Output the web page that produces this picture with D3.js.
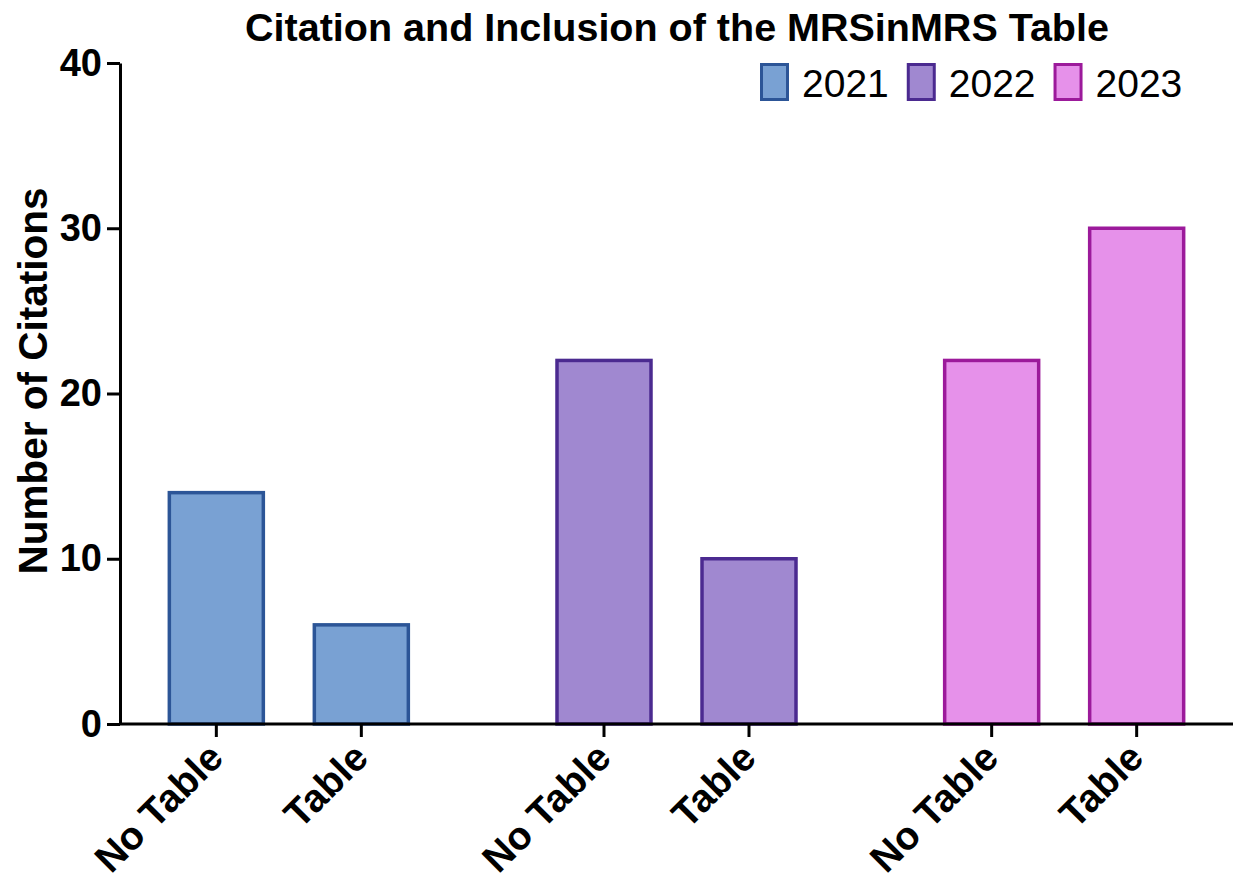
<!DOCTYPE html>
<html>
<head>
<meta charset="utf-8">
<script src="https://cdn.jsdelivr.net/npm/d3@7"></script>
<style>
  body { margin: 0; background: #fff; }
  svg text { font-family: "Liberation Sans", Arial, Helvetica, sans-serif; }
</style>
</head>
<body>
<div id="chart"></div>
<script>
// data
var years = ["2021", "2022", "2023"];
var categories = ["No Table", "Table"];
var noTable = [14, 22, 22];
var withTable = [6, 10, 30];
var yTicks = [0, 10, 20, 30, 40];

var fills = ["#79a1d3", "#a088d0", "#e691ea"];
var strokes = ["#2c5597", "#4b2a90", "#9c1a9b"];

var svgWidth = 1233;
var svgHeight = 882;

var svg = d3.select("#chart")
  .append("svg")
  .attr("width", svgWidth)
  .attr("height", svgHeight);

var yScale = d3.scaleLinear()
  .domain([0, 40])
  .range([724, 63]);

var x0 = d3.scaleBand()
  .domain(years)
  .range([95, 1258]);

var x1 = d3.scalePoint()
  .domain(categories)
  .range([-72.5, 72.5]);

var barWidth = 94;

// flatten into bar rows
var bars = [];
years.forEach(function(y, i) {
  bars.push({ year: y, cat: categories[0], value: noTable[i], idx: i });
  bars.push({ year: y, cat: categories[1], value: withTable[i], idx: i });
});
function cx(d) { return x0(d.year) + x0.bandwidth() / 2 + x1(d.cat); }

// bars
svg.selectAll("rect.bar")
  .data(bars)
  .enter()
  .append("rect")
  .attr("class", "bar")
  .attr("x", d => cx(d) - barWidth / 2)
  .attr("y", d => yScale(d.value))
  .attr("width", barWidth)
  .attr("height", d => yScale(0) - yScale(d.value))
  .attr("fill", d => fills[d.idx])
  .attr("stroke", d => strokes[d.idx])
  .attr("stroke-width", 3.5);

// x axis line + ticks
svg.append("line")
  .attr("x1", 119).attr("x2", svgWidth)
  .attr("y1", yScale(0)).attr("y2", yScale(0))
  .attr("stroke", "#000").attr("stroke-width", 3);

svg.selectAll("line.xtick")
  .data(bars)
  .enter()
  .append("line")
  .attr("class", "xtick")
  .attr("x1", d => cx(d)).attr("x2", d => cx(d))
  .attr("y1", yScale(0)).attr("y2", yScale(0) + 13)
  .attr("stroke", "#000").attr("stroke-width", 3);

svg.selectAll("text.xlabel")
  .data(bars)
  .enter()
  .append("text")
  .attr("class", "xlabel")
  .attr("transform", d => `translate(${cx(d) + 9}, ${yScale(0) + 36}) rotate(-45)`)
  .attr("text-anchor", "end")
  .attr("font-size", "39px")
  .attr("font-weight", "bold")
  .text(d => d.cat);

// y axis
var leftAxis = d3.axisLeft(yScale)
  .tickValues(yTicks)
  .tickSize(13)
  .tickSizeOuter(0)
  .tickPadding(5);

var yAxis = svg.append("g")
  .attr("transform", "translate(120, 0)")
  .call(leftAxis);
yAxis.select(".domain").attr("stroke-width", 3);
yAxis.selectAll(".tick line").attr("stroke-width", 3);
yAxis.selectAll(".tick text")
  .attr("font-size", "38px")
  .attr("font-weight", "bold")
  .attr("fill", "#000")
  .style("font-family", "'Liberation Sans', Arial, sans-serif");

// y axis label
svg.append("text")
  .attr("transform", "translate(47, 381) rotate(-90)")
  .attr("text-anchor", "middle")
  .attr("font-size", "40.5px")
  .attr("font-weight", "bold")
  .text("Number of Citations");

// title
svg.append("text")
  .attr("x", 677)
  .attr("y", 41)
  .attr("text-anchor", "middle")
  .attr("font-size", "39.5px")
  .attr("font-weight", "bold")
  .text("Citation and Inclusion of the MRSinMRS Table");

// legend
var legendX = 760;
years.forEach(function(y, i) {
  var g = svg.append("g").attr("transform", `translate(${legendX}, 63)`);
  g.append("rect")
    .attr("x", 1.5).attr("y", 1.5)
    .attr("width", 26).attr("height", 35)
    .attr("fill", fills[i])
    .attr("stroke", strokes[i])
    .attr("stroke-width", 3);
  var t = g.append("text")
    .attr("x", 42)
    .attr("y", 34)
    .attr("font-size", "39px")
    .text(y);
  legendX += 42 + t.node().getComputedTextLength() + 18;
});
</script>
</body>
</html>
